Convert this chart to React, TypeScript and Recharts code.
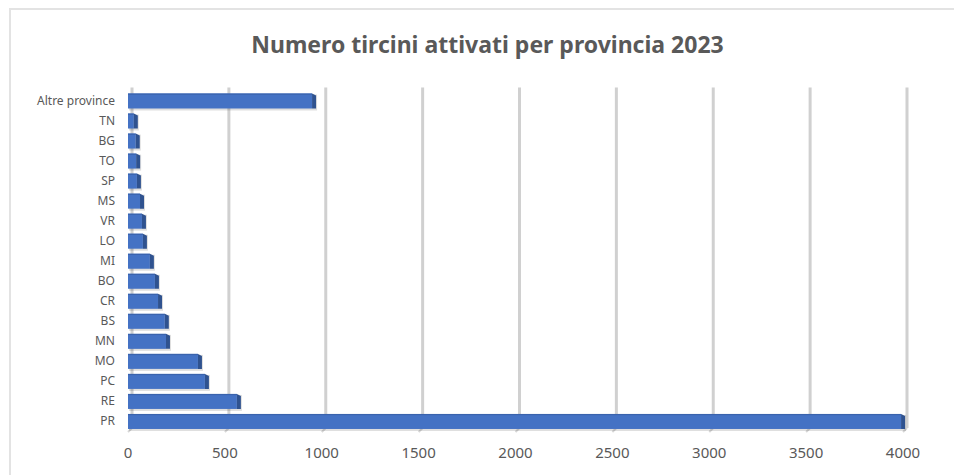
import React from "react";
import { BarChart, Bar, XAxis, YAxis, CartesianGrid } from "recharts";

// categories top -> bottom as in the chart
const provinces = [
  "Altre province",
  "TN",
  "BG",
  "TO",
  "SP",
  "MS",
  "VR",
  "LO",
  "MI",
  "BO",
  "CR",
  "BS",
  "MN",
  "MO",
  "PC",
  "RE",
  "PR",
];
const tirocini = [950, 30, 40, 42, 46, 62, 72, 77, 113, 139, 155, 190, 196, 361, 397, 562, 3990];
const xTicks = [0, 500, 1000, 1500, 2000, 2500, 3000, 3500, 4000];

const data = provinces.map((p, i) => ({ provincia: p, valore: tirocini[i] }));

const DEPTH = 4;
const FONT = "'Noto Sans', 'Open Sans', sans-serif";
const TEXT = "#595959";

// pseudo-3D bar: front face, darker right side, soft shadow
const Bar3D = (props: any) => {
  const { x, y, width, height } = props;
  const right = x + width;
  return (
    <g>
      <rect x={x + 1} y={y + 1} width={width + DEPTH} height={height + 1} fill="#000" opacity={0.13} />
      <rect x={x} y={y} width={width} height={height} fill="#4472C4" />
      <rect x={x} y={y} width={width} height={1.2} fill="#3a63ad" />
      <polygon
        points={`${right},${y} ${right + DEPTH},${y + 2} ${right + DEPTH},${y + height} ${right},${y + height}`}
        fill="#2F528F"
      />
    </g>
  );
};

// gridlines sit on the back wall, shifted by the depth, with a small floor foot
const GridLine = (props: any) => {
  const { x1, y1, y2 } = props;
  const gx = x1 + DEPTH;
  return (
    <g>
      <line x1={gx} y1={y1 - 3} x2={gx} y2={y2 - 3} stroke="#D0D0D0" strokeWidth={3} />
      <line x1={gx} y1={y2 - 3} x2={gx - 4} y2={y2 + 1} stroke="#D6D6D6" strokeWidth={2} />
    </g>
  );
};

export default function App() {
  return (
    <div style={{ position: "absolute", left: 0, top: 0, width: 954, height: 475, overflow: "hidden", background: "#fff" }}>
      <div
        style={{
          position: "absolute",
          left: 9,
          top: 8,
          width: 960,
          height: 480,
          border: "2px solid #E3E3E3",
        }}
      />
      <div
        style={{
          position: "absolute",
          left: 0,
          top: 30,
          width: 975,
          textAlign: "center",
          fontFamily: FONT,
          fontWeight: 700,
          fontSize: 23,
          lineHeight: "29px",
          color: TEXT,
        }}
      >
        Numero tircini attivati per provincia 2023
      </div>
      <div style={{ position: "absolute", left: 0, top: 0 }}>
        <BarChart
          width={954}
          height={475}
          data={data}
          layout="vertical"
          margin={{ top: 90.5, right: 51, bottom: 0, left: 10 }}
          barSize={15}
        >
          <CartesianGrid horizontal={false} vertical={GridLine} />
          <XAxis
            type="number"
            domain={[0, 4000]}
            ticks={xTicks}
            axisLine={false}
            tickLine={false}
            tickSize={0}
            tickMargin={16}
            height={44}
            interval={0}
            tick={{ fill: TEXT, fontSize: 15, fontFamily: FONT }}
          />
          <YAxis
            type="category"
            dataKey="provincia"
            width={118}
            axisLine={false}
            tickLine={false}
            tickSize={0}
            tickMargin={13}
            interval={0}
            tick={{ fill: TEXT, fontSize: 12, fontFamily: FONT }}
          />
          <Bar dataKey="valore" shape={Bar3D} isAnimationActive={false} />
        </BarChart>
      </div>
    </div>
  );
}
